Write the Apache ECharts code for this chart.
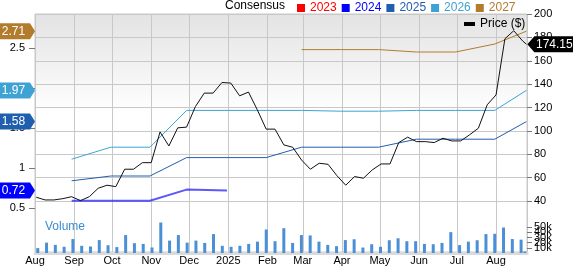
<!DOCTYPE html>
<html>
<head>
<meta charset="utf-8">
<script src="https://cdn.jsdelivr.net/npm/echarts@6/dist/echarts.min.js"></script>
<style>
html,body{margin:0;padding:0;background:#fff;}
#chart{width:573px;height:266px;}
</style>
</head>
<body>
<div id="chart"></div>
<script>
// ---------- DATA ----------
const X_START = '2024-08-01';
const X_END = '2025-08-25 12:00';
const MONTH_LABELS = ['Jan','Feb','Mar','Apr','May','Jun','Jul','Aug','Sep','Oct','Nov','Dec'];

// weekly closes (Fridays) starting 2024-08-02, then latest day
const WEEK_START = '2024-08-02';
const WEEK_COUNT = 56;
const LATEST_DATE = '2025-08-25';

const price = [43.2, 40.9, 40.9, 42.0, 43.7, 40.3, 43.7, 50.9, 53.5, 52.3,
  67.2, 67.2, 72.8, 72.8, 99.1, 87.1, 102.6, 103.2, 120.8, 132.3,
  132.3, 141.4, 140.9, 130.0, 133.2, 118.0, 101.5, 101.5, 88.0, 86.0,
  75.1, 67.2, 72.3, 71.4, 61.7, 53.5, 60.9, 59.5, 66.6, 71.7,
  71.7, 90.0, 94.6, 90.8, 90.8, 90.0, 93.7, 91.4, 91.4, 96.6,
  102.3, 122.3, 130.8, 178.8, 185.7, 177.0, 174.15];

const volumeK = [9.5, 20, 15.7, 12, 27, 13.9, 12.6, 25, 15, 11.4,
  34.7, 19, 17.6, 10.7, 59, 24, 34.7, 20, 24, 19.5,
  36.6, 13.9, 12, 13.9, 17.6, 22, 45.5, 22.8, 48, 19.5,
  34.7, 34, 22, 15.7, 13.3, 25, 26.6, 10.6, 17, 12,
  24.7, 28.5, 22.8, 22.8, 17.6, 17, 19.5, 40.4, 15.2, 22,
  24.7, 36.6, 37.2, 49.3, 27, 25.8, 3];

// monthly consensus estimates
const epsDates = ['2024-08-30','2024-09-30','2024-10-31','2024-11-29','2024-12-31','2025-01-31',
  '2025-02-28','2025-03-31','2025-04-30','2025-05-30','2025-06-30','2025-07-31','2025-08-25'];
const eps2023 = [];
const eps2024 = [0.59, 0.59, 0.59, 0.73, 0.72, null, null, null, null, null, null, null, null];
const eps2025 = [0.84, 0.90, 0.90, 1.13, 1.13, 1.13, 1.26, 1.26, 1.26, 1.36, 1.36, 1.36, 1.58];
const eps2026 = [1.11, 1.26, 1.26, 1.72, 1.72, 1.72, 1.72, 1.71, 1.71, 1.72, 1.72, 1.72, 1.97];
const eps2027 = [null, null, null, null, null, null, 2.48, 2.48, 2.48, 2.45, 2.45, 2.55, 2.71];

const epsTicks = [0.5, 1, 1.5, 2, 2.5];
const volTicks = [0, 10000, 20000, 30000, 40000, 50000, 60000];

// ---------- BUILD ----------
const DAY = 86400000;
function parseD(s){ const p = s.split(/[- :]/).map(Number); return new Date(p[0], p[1]-1, p[2], p[3]||0, p[4]||0).getTime(); }
const xMin = parseD(X_START), xMax = parseD(X_END);
const weekDates = [];
for (let i = 0; i < WEEK_COUNT; i++) weekDates.push(parseD(WEEK_START) + i * 7 * DAY);
weekDates.push(parseD(LATEST_DATE));

const priceData = weekDates.map((d, i) => [d, price[i]]);
const volData = weekDates.map((d, i) => [d, volumeK[i] * 1000]);
function epsSeriesData(arr){ return epsDates.map((d, i) => [parseD(d), arr[i] === undefined ? null : arr[i]]); }
function lastVal(arr){ for (let i = arr.length - 1; i >= 0; i--) if (arr[i] != null) return arr[i]; return null; }

const COLORS = {'2023':'#ff0000','2024':'#0000ff','2025':'#1f5fad','2026':'#3ea3d4','2027':'#b27c2c'};
const FONT = '"Liberation Sans", Arial, sans-serif';
const GRID_L = 35, GRID_R = 46;

function epsSeries(name, arr, width, opacity){
  const lv = lastVal(arr);
  const s = {
    name: name, type: 'line', xAxisIndex: 2, yAxisIndex: 2,
    data: epsSeriesData(arr), showSymbol: false, symbol: 'none',
    connectNulls: false, color: COLORS[name],
    lineStyle: {width: width, color: COLORS[name], opacity: opacity}, z: 3, silent: true
  };
  if (lv != null) {
    s.markPoint = {
      symbol: 'path://M0,0 L30,0 L35,8 L30,16 L0,16 Z',
      symbolSize: [35, 16], symbolOffset: [-17.5, 0], symbolKeepAspect: false,
      itemStyle: {color: COLORS[name]},
      label: {show: true, color: '#fff', fontSize: 12, fontFamily: FONT, offset: [-4, 0],
        formatter: () => lv.toFixed(2)},
      data: [{coord: [xMin, lv], value: lv}],
      z: 10, silent: true
    };
  }
  return s;
}

const chart = echarts.init(document.getElementById('chart'), null, {renderer: 'canvas'});
const timeAxisBase = {type: 'time', min: xMin, max: xMax};

const option = {
  animation: false,
  backgroundColor: '#ffffff',
  textStyle: {fontFamily: FONT},
  graphic: [
    {type: 'text', left: 225, top: 0, style: {text: 'Consensus', fill: '#000', font: '12px ' + FONT}},
    {type: 'text', left: 45, top: 221, style: {text: 'Volume', fill: '#3d8bd0', font: '12px ' + FONT}, z: 20}
  ],
  legend: [
    {
      left: 297, top: 2, padding: 0, itemWidth: 8, itemHeight: 8, itemGap: 5, icon: 'rect',
      selectedMode: false,
      textStyle: {fontSize: 12, fontFamily: FONT},
      data: ['2023','2024','2025','2026','2027'].map(n => ({name: n, icon: 'rect', textStyle: {color: COLORS[n]}}))
    },
    {
      left: 464, top: 18, padding: 0, itemWidth: 11, itemHeight: 4, selectedMode: false,
      textStyle: {fontSize: 12, color: '#000', fontFamily: FONT},
      data: [{name: 'Price ($)', icon: 'rect'}]
    }
  ],
  grid: [
    {left: GRID_L, right: GRID_R, top: 14, bottom: 13, show: true, borderColor: '#c8c8c8', borderWidth: 1,
      backgroundColor: {type: 'linear', x: 0, y: 0, x2: 0, y2: 1,
        colorStops: [{offset: 0, color: '#e3e3e3'}, {offset: 0.42, color: '#ffffff'}, {offset: 1, color: '#ffffff'}]}},
    {left: GRID_L, right: GRID_R, top: 14, height: 187},
    {left: GRID_L, right: GRID_R, top: 8, height: 200},
    {left: GRID_L, right: GRID_R, top: 222, height: 31}
  ],
  xAxis: [
    Object.assign({}, timeAxisBase, {
      gridIndex: 0, splitNumber: 13, minInterval: 28 * DAY, maxInterval: 31 * DAY,
      axisLine: {show: false}, axisTick: {show: false},
      axisLabel: {color: '#000', fontSize: 11, fontFamily: FONT, margin: 3,
        formatter: v => { const d = new Date(v); return d.getMonth() === 0 ? String(d.getFullYear()) : MONTH_LABELS[d.getMonth()]; }},
      splitLine: {show: true, lineStyle: {color: '#c8c8c8', width: 1}}
    }),
    Object.assign({}, timeAxisBase, {gridIndex: 1, show: false}),
    Object.assign({}, timeAxisBase, {gridIndex: 2, show: false}),
    Object.assign({}, timeAxisBase, {gridIndex: 3, position: 'top', offset: 5,
      axisLine: {show: true, lineStyle: {color: '#dadada', width: 3}},
      axisTick: {show: false}, axisLabel: {show: false}, splitLine: {show: false}})
  ],
  yAxis: [
    {gridIndex: 0, type: 'value', min: 0, max: 1, show: false},
    {gridIndex: 1, type: 'value', position: 'right', min: 40, max: 200, interval: 20,
      axisLine: {show: false},
      axisTick: {show: true, length: 5, lineStyle: {color: '#777'}},
      axisLabel: {color: '#000', fontSize: 11, fontFamily: FONT, margin: 7, hideOverlap: false},
      splitLine: {show: true, lineStyle: {color: '#c8c8c8', width: 1}}},
    {gridIndex: 2, type: 'value', position: 'left', min: 0.5, max: 3, interval: 0.5,
      axisLine: {show: false},
      axisTick: {show: true, length: 6, lineStyle: {color: '#777'}, customValues: epsTicks},
      axisLabel: {color: '#000', fontSize: 11, fontFamily: FONT, margin: 10, customValues: epsTicks, hideOverlap: false},
      splitLine: {show: false}},
    {gridIndex: 3, type: 'value', position: 'right', min: 0, max: 60000, interval: 10000,
      axisLine: {show: false},
      axisTick: {show: true, length: 5, lineStyle: {color: '#777'}, customValues: volTicks},
      axisLabel: {color: '#000', fontSize: 11, fontFamily: FONT, margin: 7, hideOverlap: false,
        interval: 0, customValues: volTicks,
        formatter: v => v === 0 ? '0' : (v / 1000) + 'k'},
      splitLine: {show: false}}
  ],
  series: [
    {name: 'Volume', type: 'bar', xAxisIndex: 3, yAxisIndex: 3, data: volData, barWidth: 3,
      itemStyle: {color: '#4b8fd6'}, silent: true},
    epsSeries('2023', eps2023, 1, 1),
    epsSeries('2024', eps2024, 2, 0.65),
    epsSeries('2025', eps2025, 1, 1),
    epsSeries('2026', eps2026, 1, 1),
    epsSeries('2027', eps2027, 1, 1),
    {name: 'Price ($)', type: 'line', xAxisIndex: 1, yAxisIndex: 1, data: priceData,
      showSymbol: false, symbol: 'none', color: '#000', lineStyle: {width: 1, color: '#111'}, z: 4, silent: true,
      markPoint: {
        symbol: 'path://M0,8 L7,0 L50,0 L50,16 L7,16 Z', symbolSize: [50, 16], symbolOffset: [26, 0],
        symbolKeepAspect: false, itemStyle: {color: '#000'},
        label: {show: true, color: '#fff', fontSize: 12, fontFamily: FONT, offset: [2, 0],
          formatter: () => price[price.length - 1].toFixed(2)},
        data: [{coord: [weekDates[weekDates.length - 1], price[price.length - 1]], value: price[price.length - 1]}],
        z: 10, silent: true
      }}
  ]
};
chart.setOption(option);
</script>
</body>
</html>
